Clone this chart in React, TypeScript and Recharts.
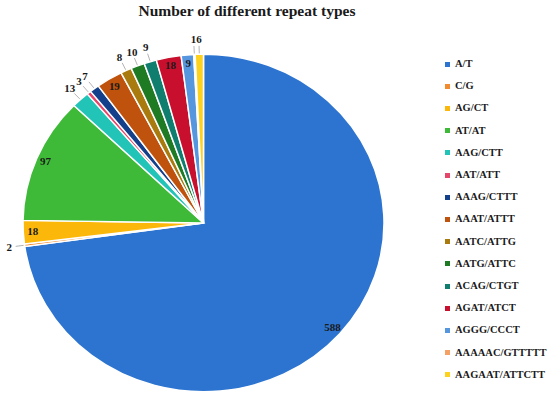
import React from 'react';
import { PieChart, Pie, Cell, Legend } from 'recharts';

const categories = [
  'A/T', 'C/G', 'AG/CT', 'AT/AT', 'AAG/CTT', 'AAT/ATT', 'AAAG/CTTT', 'AAAT/ATTT',
  'AATC/ATTG', 'AATG/ATTC', 'ACAG/CTGT', 'AGAT/ATCT', 'AGGG/CCCT', 'AAAAAC/GTTTTT', 'AAGAAT/ATTCTT',
];
const counts = [588, 2, 18, 97, 13, 3, 7, 19, 8, 10, 9, 18, 9, 1, 6];
const colors = [
  '#2c74d0', '#f28a30', '#fbb80a', '#3fba38', '#21c4b7', '#e7466b', '#143f8a', '#bf520d',
  '#a97a0e', '#1f7a24', '#0f7e6f', '#c8102e', '#5596df', '#f5a064', '#fdd21f',
];
const insideLabels = ['A/T', 'AG/CT', 'AT/AT', 'AAAT/ATTT', 'AGAT/ATCT', 'AGGG/CCCT'];
const title = 'Number of different repeat types';

const data = categories.map((name, i) => ({ name, value: counts[i] }));

const SY = 0.935;
const FONT = 'Liberation Serif, Times New Roman, DejaVu Serif, serif';

const renderLabel = (props: any) => {
  const { cx, cy, midAngle, outerRadius, value } = props;
  const name = props.name ?? props.payload?.name;
  const rad = (-midAngle * Math.PI) / 180;
  const cos = Math.cos(rad);
  const sin = Math.sin(rad);
  const common = {
    textAnchor: 'middle' as const,
    dominantBaseline: 'central' as const,
    style: { fontFamily: FONT, fontWeight: 700, fontSize: 11 },
    fill: '#1a1a1a',
  };
  if (insideLabels.includes(name)) {
    const r = outerRadius - 9.5;
    return (
      <text x={cx + r * cos} y={cy + r * sin} {...common}>
        {value}
      </text>
    );
  }
  const r1 = outerRadius + 1;
  const r2 = outerRadius + 9;
  const r3 = outerRadius + 15.5;
  return (
    <g>
      <line
        x1={cx + r1 * cos}
        y1={cy + r1 * sin}
        x2={cx + r2 * cos}
        y2={cy + r2 * sin}
        stroke="#b0b0b0"
        strokeWidth={1}
      />
      <text x={cx + r3 * cos} y={cy + r3 * sin} {...common}>
        {value}
      </text>
    </g>
  );
};

const renderLegend = (props: any) => {
  const payload = [...(props.payload || [])].sort(
    (a: any, b: any) => categories.indexOf(a.value) - categories.indexOf(b.value)
  );
  return (
    <div
      style={{
        position: 'absolute',
        left: 0,
        top: 0,
        width: 550,
        height: 398,
        transform: `scaleY(${1 / SY})`,
        transformOrigin: '0 0',
        pointerEvents: 'none',
      }}
    >
      {payload.map((entry: any, i: number) => (
        <div
          key={i}
          style={{
            position: 'absolute',
            left: 445,
            top: 64 + i * 22.2 - 7,
            height: 14,
            display: 'flex',
            alignItems: 'center',
            whiteSpace: 'nowrap',
          }}
        >
          <span
            style={{
              display: 'inline-block',
              width: 5,
              height: 5,
              background: entry.color,
              marginRight: 5,
            }}
          />
          <span
            style={{
              fontFamily: FONT,
              fontWeight: 700,
              fontSize: 10.5,
              color: '#1a1a1a',
              lineHeight: '14px',
            }}
          >
            {entry.value}
          </span>
        </div>
      ))}
    </div>
  );
};

export default function App() {
  return (
    <div
      style={{
        position: 'absolute',
        left: 0,
        top: 0,
        width: 550,
        height: 398,
        background: '#ffffff',
        overflow: 'hidden',
      }}
    >
      <div
        style={{
          position: 'absolute',
          left: 0,
          top: 0,
          width: 494,
          textAlign: 'center',
          fontFamily: FONT,
          fontWeight: 700,
          fontSize: 15.5,
          lineHeight: '22px',
          color: '#1a1a1a',
          whiteSpace: 'nowrap',
        }}
      >
        {title}
      </div>
      <div
        style={{
          position: 'absolute',
          left: 0,
          top: 0,
          width: 550,
          height: 426,
          transform: `scaleY(${SY})`,
          transformOrigin: '0 0',
        }}
      >
        <PieChart width={550} height={426} margin={{ top: 0, right: 0, bottom: 0, left: 0 }}>
          <Pie
            data={data}
            dataKey="value"
            nameKey="name"
            cx={203.5}
            cy={238.5}
            outerRadius={180.5}
            startAngle={90}
            endAngle={-270}
            stroke="#ffffff"
            strokeWidth={1.5}
            label={renderLabel}
            labelLine={false}
            isAnimationActive={false}
          >
            {data.map((d, i) => (
              <Cell key={d.name} fill={colors[i]} />
            ))}
          </Pie>
          <Legend
            layout="vertical"
            align="right"
            verticalAlign="middle"
            content={renderLegend}
            wrapperStyle={{ position: 'absolute', left: 0, top: 0, width: 550, height: 426 }}
          />
        </PieChart>
      </div>
    </div>
  );
}
